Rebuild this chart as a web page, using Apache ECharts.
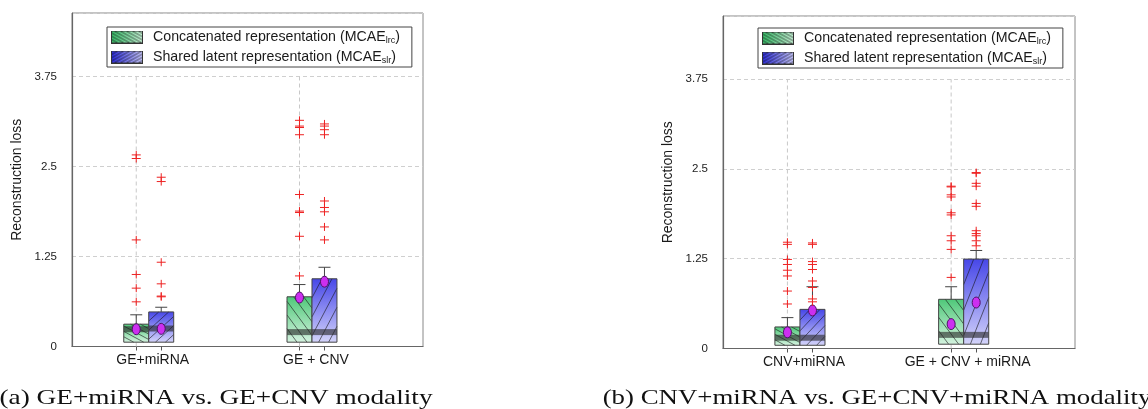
<!DOCTYPE html>
<html>
<head>
<meta charset="utf-8">
<script src="https://cdn.jsdelivr.net/npm/echarts@6/dist/echarts.min.js"></script>
<style>
html,body{margin:0;padding:0;background:#fff;}
#chart{width:1148px;height:409px;}
</style>
</head>
<body>
<div id="chart"></div>
<script>
// ---------------- DATA ----------------
const categoriesA = ['GE+miRNA', 'GE + CNV'];
const categoriesB = ['CNV+miRNA', 'GE + CNV + miRNA'];
const seriesNames = ['Concatenated representation (MCAElrc)', 'Shared latent representation (MCAEslr)'];
const yTicks = [0, 1.25, 2.5, 3.75];
const captionA = '(a) GE+miRNA vs. GE+CNV modality';
const captionB = '(b) CNV+miRNA vs. GE+CNV+miRNA modality';

// Panel A — concatenated (lrc)
const boxLowA_lrc = [0.06, 0.06];
const boxTopA_lrc = [0.31, 0.69];
const medianA_lrc = [0.24, 0.20];
const whiskerA_lrc = [0.44, 0.86];
const meanA_lrc = [0.24, 0.68];
const outliersA_lrc = [[0.62, 0.81, 1.00, 1.48, 2.61, 2.66], [0.98, 1.53, 1.86, 1.88, 2.11, 2.94, 3.04, 3.06, 3.14]];
// Panel A — shared latent (slr)
const boxLowA_slr = [0.06, 0.06];
const boxTopA_slr = [0.48, 0.94];
const medianA_slr = [0.25, 0.20];
const whiskerA_slr = [0.545, 1.10];
const meanA_slr = [0.245, 0.90];
const outliersA_slr = [[0.69, 0.70, 0.87, 1.17, 2.29, 2.35], [1.48, 1.66, 1.87, 1.93, 2.02, 2.94, 3.01, 3.06, 3.09]];
// Panel B — concatenated (lrc)
const boxLowB_lrc = [0.045, 0.06];
const boxTopB_lrc = [0.30, 0.685];
const medianB_lrc = [0.15, 0.19];
const whiskerB_lrc = [0.43, 0.86];
const meanB_lrc = [0.225, 0.34];
const outliersB_lrc = [[0.62, 0.80, 1.01, 1.09, 1.17, 1.24, 1.45, 1.48], [0.99, 1.38, 1.50, 1.57, 1.86, 1.89, 2.11, 2.14, 2.25, 2.26]];
// Panel B — shared latent (slr)
const boxLowB_slr = [0.045, 0.06];
const boxTopB_slr = [0.545, 1.245];
const medianB_slr = [0.15, 0.19];
const whiskerB_slr = [0.86, 1.365];
const meanB_slr = [0.53, 0.64];
const outliersB_slr = [[0.65, 0.69, 0.85, 0.94, 1.10, 1.17, 1.21, 1.45, 1.47], [1.43, 1.50, 1.57, 1.60, 1.64, 1.98, 2.02, 2.26, 2.30, 2.44, 2.45]];

// ---------------- STYLE ----------------
const OFF = 0.0765;      // half distance between paired boxes (axis units)
const BOXW = 0.153;      // box width (axis units)
const FONT = '"Liberation Sans", Arial, sans-serif';
const GREEN = ['#4fc879', '#d3f2de'];
const BLUE = ['#4747e8', '#d3d3fa'];

function makeIcon(c0, c1, dir) {
  const w = 32, h = 13;
  const cv = document.createElement('canvas');
  cv.width = w; cv.height = h;
  const ctx = cv.getContext('2d');
  const g = ctx.createLinearGradient(0, 0, w, 0);
  g.addColorStop(0, c0); g.addColorStop(1, c1);
  ctx.fillStyle = g; ctx.fillRect(0, 0, w, h);
  ctx.strokeStyle = 'rgba(0,0,0,0.7)'; ctx.lineWidth = 0.8;
  for (let x = -40; x < 45; x += 6) {
    ctx.beginPath();
    if (dir < 0) { ctx.moveTo(x, 0); ctx.lineTo(x + 24, h); }
    else { ctx.moveTo(x, h); ctx.lineTo(x + 24, 0); }
    ctx.stroke();
  }
  ctx.strokeStyle = '#333'; ctx.lineWidth = 1; ctx.strokeRect(0.5, 0.5, w - 1, h - 1);
  return 'image://' + cv.toDataURL();
}
const iconGreen = makeIcon('#35b865', '#c4ecd2', -1);
const iconBlue = makeIcon('#2b2bd8', '#c4c4f5', 1);

function hatch(x1, x2, y1, y2, dir) {
  const W = x2 - x1, H = y2 - y1;
  const m = 0.75 * H / W;
  const step = Math.max(4.5, 0.3 * H);
  const segs = [];
  for (let c = -H * 2; c < H * 3; c += step) {
    const xa = x1 + (0 - c) / m, xb = x1 + (H - c) / m;
    const lo = Math.max(x1, Math.min(xa, xb)), hi = Math.min(x2, Math.max(xa, xb));
    if (hi - lo < 0.5) continue;
    const yf = dir < 0 ? (x => y1 + c + m * (x - x1)) : (x => y2 - c - m * (x - x1));
    segs.push({ type: 'line', shape: { x1: lo, y1: yf(lo), x2: hi, y2: yf(hi) },
      style: { stroke: 'rgba(20,20,20,0.75)', lineWidth: 0.8 }, silent: true });
  }
  return segs;
}

function makeRender(low, top, med, whisk, mean, outs, dir, cols, drawGrid) {
  return function (params, api) {
    const i = params.dataIndex;
    const idx = api.value(0);
    const xc = api.coord([idx + dir * OFF, 0])[0];
    const hw = api.size([BOXW, 0])[0] / 2;
    const Y = v => api.coord([idx, v])[1];
    const ch = [];
    if (drawGrid) {
      ch.push({ type: 'line', shape: { x1: xc, y1: Y(0), x2: xc, y2: Y(yTicks[yTicks.length - 1]) },
        style: { stroke: '#c8c8c8', lineWidth: 1, lineDash: [4, 3] }, silent: true });
    }
    const yTop = Y(top[i]), yLow = Y(low[i]), yW = Y(whisk[i]);
    ch.push({ type: 'line', shape: { x1: xc, y1: yTop, x2: xc, y2: yW }, style: { stroke: '#444', lineWidth: 1 } });
    ch.push({ type: 'line', shape: { x1: xc - 6, y1: yW, x2: xc + 6, y2: yW }, style: { stroke: '#444', lineWidth: 1 } });
    ch.push({ type: 'rect', shape: { x: xc - hw, y: yTop, width: 2 * hw, height: yLow - yTop },
      style: { fill: new echarts.graphic.LinearGradient(0, 0, 0, 1, [{ offset: 0, color: cols[0] }, { offset: 1, color: cols[1] }]), stroke: 'none' } });
    hatch(xc - hw, xc + hw, yTop, yLow, dir < 0 ? -1 : 1).forEach(s => ch.push(s));
    const ym = Y(med[i]);
    ch.push({ type: 'rect', shape: { x: xc - hw, y: ym - 3, width: 2 * hw, height: 6 }, style: { fill: 'rgba(35,35,35,0.6)' } });
    ch.push({ type: 'rect', shape: { x: xc - hw, y: yTop, width: 2 * hw, height: yLow - yTop },
      style: { fill: 'none', stroke: '#444', lineWidth: 1 } });
    ch.push({ type: 'ellipse', shape: { cx: xc, cy: Y(mean[i]), rx: 4, ry: 5.5 },
      style: { fill: '#cc2ff0', stroke: '#4d1466', lineWidth: 1 } });
    outs[i].forEach(v => {
      const yo = Y(v);
      ch.push({ type: 'line', shape: { x1: xc - 4.5, y1: yo, x2: xc + 4.5, y2: yo }, style: { stroke: '#ee2222', lineWidth: 1 } });
      ch.push({ type: 'line', shape: { x1: xc, y1: yo - 4, x2: xc, y2: yo + 4 }, style: { stroke: '#ee2222', lineWidth: 1 } });
    });
    return { type: 'group', children: ch };
  };
}

function customSeries(name, axis, cats, low, top, med, whisk, mean, outs, dir, cols, grid) {
  return {
    type: 'custom', name: name, xAxisIndex: axis, yAxisIndex: axis,
    itemStyle: { color: cols[0] },
    data: cats.map((c, i) => [i, low[i], top[i], whisk[i], mean[i]]),
    encode: { x: 0, y: [1, 2, 3, 4] },
    renderItem: makeRender(low, top, med, whisk, mean, outs, dir, cols, grid),
    clip: false, z: 3
  };
}

function xAxisFor(gi, cats) {
  return {
    type: 'value', gridIndex: gi, min: -0.47, max: 1.68,
    axisLine: { show: true, onZero: false, lineStyle: { color: '#666', width: 1.2 } },
    axisTick: { show: true, length: 4, customValues: [-OFF, OFF, 1 - OFF, 1 + OFF], lineStyle: { color: '#555' } },
    axisLabel: { customValues: cats.map((c, i) => i), formatter: v => cats[Math.round(v)] || '',
      fontFamily: FONT, fontSize: 14, color: '#1a1a1a', margin: 7, padding: [0, 0, 0, 8] },
    splitLine: { show: false }
  };
}
function yAxisFor(gi) {
  return {
    type: 'value', gridIndex: gi, min: 0, max: 4.63, interval: 1.25,
    name: 'Reconstruction loss', nameLocation: 'middle', nameGap: 48,
    nameTextStyle: { fontFamily: FONT, fontSize: 14, color: '#1a1a1a' },
    axisLine: { show: true, onZero: false, lineStyle: { color: '#666', width: 1.2 } },
    axisTick: { show: false },
    axisLabel: { fontFamily: FONT, fontSize: 11.5, color: '#222', margin: 15, showMaxLabel: false },
    splitLine: { show: true, lineStyle: { color: '#cfcfcf', type: [4, 3], width: 1 } }
  };
}
function legendFor(left, top) {
  return {
    orient: 'vertical', left: left, top: top, padding: [3, 12, 2, 4], itemGap: 5,
    itemWidth: 32, itemHeight: 13, borderColor: '#444', borderWidth: 1, backgroundColor: '#fff',
    selectedMode: false,
    data: [{ name: seriesNames[0], icon: iconGreen }, { name: seriesNames[1], icon: iconBlue }],
    formatter: n => n.replace(/^(.*MCAE)(\w+)\)$/, '{m|$1}{s|$2}{m|)}'),
    textStyle: { padding: [0, 0, 0, 5], rich: {
      m: { fontFamily: FONT, fontSize: 14.2, color: '#1a1a1a', lineHeight: 16 },
      s: { fontFamily: FONT, fontSize: 9, color: '#1a1a1a', lineHeight: 16, verticalAlign: 'bottom', padding: [4, 0, 0, 0] }
    } }
  };
}

const chart = echarts.init(document.getElementById('chart'), null, { renderer: 'canvas' });
chart.setOption({
  backgroundColor: '#fff',
  animation: false,
  grid: [
    { left: 72, top: 13, width: 351, bottom: 62.5, show: true, borderColor: '#888', borderWidth: 1, backgroundColor: 'transparent' },
    { left: 723, top: 16, width: 352, bottom: 60.5, show: true, borderColor: '#888', borderWidth: 1, backgroundColor: 'transparent' }
  ],
  xAxis: [xAxisFor(0, categoriesA), xAxisFor(1, categoriesB)],
  yAxis: [yAxisFor(0), yAxisFor(1)],
  legend: [legendFor(107, 27), legendFor(758, 28)],
  series: [
    customSeries(seriesNames[0], 0, categoriesA, boxLowA_lrc, boxTopA_lrc, medianA_lrc, whiskerA_lrc, meanA_lrc, outliersA_lrc, -1, GREEN, true),
    customSeries(seriesNames[1], 0, categoriesA, boxLowA_slr, boxTopA_slr, medianA_slr, whiskerA_slr, meanA_slr, outliersA_slr, 1, BLUE, false),
    customSeries(seriesNames[0], 1, categoriesB, boxLowB_lrc, boxTopB_lrc, medianB_lrc, whiskerB_lrc, meanB_lrc, outliersB_lrc, -1, GREEN, true),
    customSeries(seriesNames[1], 1, categoriesB, boxLowB_slr, boxTopB_slr, medianB_slr, whiskerB_slr, meanB_slr, outliersB_slr, 1, BLUE, false)
  ],
  graphic: [
    { type: 'text', x: 216, y: 398, scaleX: 1.24, silent: true,
      style: { text: captionA, font: '22px "Liberation Serif", serif', fill: '#111', align: 'center', verticalAlign: 'middle' } },
    { type: 'text', x: 877, y: 398, scaleX: 1.22, silent: true,
      style: { text: captionB, font: '22px "Liberation Serif", serif', fill: '#111', align: 'center', verticalAlign: 'middle' } }
  ]
});
</script>
</body>
</html>
